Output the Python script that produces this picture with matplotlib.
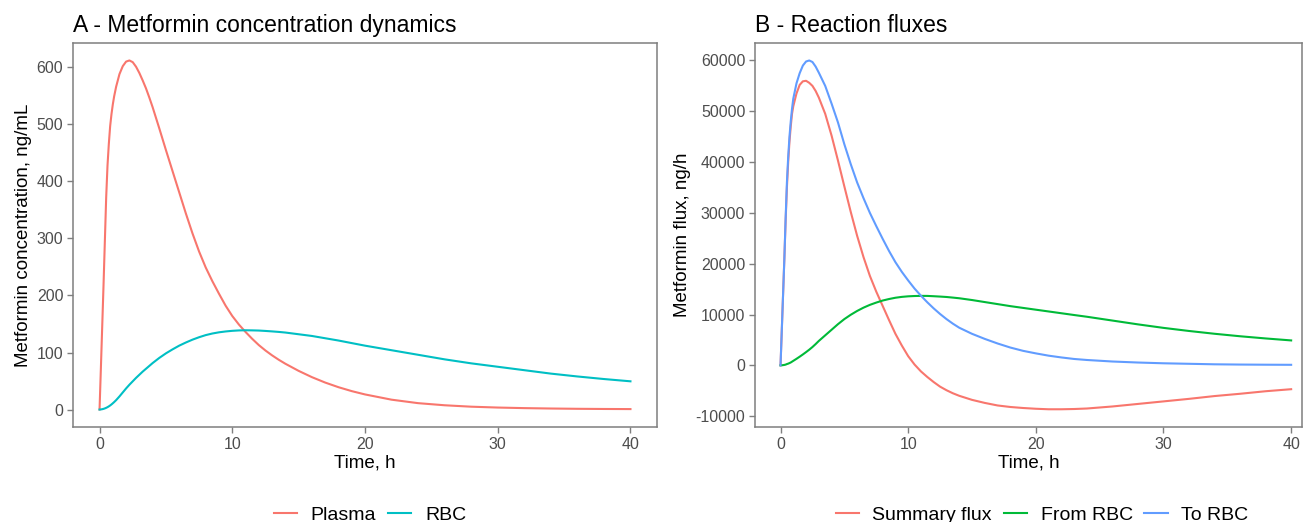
import matplotlib
matplotlib.use("Agg")
import matplotlib.pyplot as plt
from matplotlib.lines import Line2D

plt.rcParams['font.family'] = ['Liberation Sans', 'DejaVu Sans']

# ---------------- Panel A data (ng/mL) ----------------
time_a = [0, 0.1, 0.2, 0.3, 0.4, 0.5, 0.6, 0.7, 0.8, 0.9, 1.0, 1.1, 1.25, 1.5, 1.75, 2.0, 2.25,
          2.5, 2.75, 3.0, 3.25, 3.5, 3.75, 4.0, 4.5, 5.0, 5.5, 6.0, 6.5, 7.0, 7.5, 8.0, 8.5, 9.0, 9.5,
          10, 10.5, 11, 11.5, 12, 12.5, 13, 13.5, 14, 15, 16, 17, 18, 19, 20, 22, 24, 26, 28, 30, 32, 34, 36, 38, 40]
plasma = [0, 72, 145, 218, 295, 372, 428, 466, 497, 518, 535, 549, 566, 588, 602, 610, 612,
          609, 601, 590, 577, 563, 547, 530, 493, 455, 418, 381, 344, 309, 277, 249, 225, 203, 182,
          164, 149, 136, 124, 113, 103.5, 95, 87.3, 80.3, 67.8, 56.8, 47.3, 39.2, 32.3, 26.5, 17.3, 11.2, 7.5, 5, 3.5, 2.5, 1.8, 1.3, 1.0, 0.8]
rbc = [0, 0.2, 0.6, 1.2, 2.0, 3.0, 4.2, 5.6, 7.2, 9.0, 11.0, 13.1, 16.5, 23, 30, 37, 43.5,
       49.5, 55.5, 61, 66.5, 71.5, 76.5, 81.5, 90.5, 98.5, 105.5, 112, 117.5, 122.5, 126.8, 130.5, 133.3, 135.4, 136.9,
       138, 138.7, 139, 138.8, 138.5, 137.8, 137, 136.1, 135, 132, 129, 125, 121, 116.5, 112, 104, 96, 88, 81, 75, 69, 63, 58, 53.5, 49.5]

# ---------------- Panel B data (ng/h) ----------------
time_b = [0, 0.1, 0.2, 0.3, 0.4, 0.5, 0.6, 0.7, 0.8, 0.9, 1.0, 1.25, 1.5, 1.75, 2.0, 2.25,
          2.5, 2.75, 3.0, 3.5, 4.0, 4.5, 5.0, 5.5, 6.0, 6.5, 7.0, 7.5, 8.0, 8.5, 9.0, 9.5,
          10, 10.5, 11, 11.5, 12, 12.5, 13, 13.5, 14, 15, 16, 17, 18, 19, 20, 21, 22, 23, 24,
          26, 28, 30, 32, 34, 36, 38, 40]
summary_flux = [0, 7000, 14000, 21000, 28500, 35000, 40000, 44000, 47000, 49500, 51000, 53500, 55200, 55900, 56000, 55600,
                55000, 54000, 52700, 49500, 45200, 40300, 35200, 30200, 25500, 21300, 17600, 14500, 11700, 8900, 6200, 3900,
                1800, 150, -1200, -2300, -3300, -4200, -4900, -5500, -6000, -6800, -7400, -7900, -8200, -8400, -8550, -8650, -8650, -8600, -8500,
                -8100, -7600, -7100, -6600, -6050, -5600, -5100, -4700]
from_rbc = [0, 10, 40, 80, 140, 250, 330, 440, 560, 720, 880, 1280, 1700, 2140, 2600, 3080,
            3600, 4180, 4800, 5900, 7000, 8100, 9100, 9950, 10700, 11350, 11900, 12350, 12750, 13050, 13300, 13470,
            13580, 13640, 13670, 13660, 13600, 13530, 13450, 13330, 13200, 12850, 12450, 12050, 11650, 11300, 10950, 10600, 10250, 9900, 9560,
            8810, 8060, 7370, 6760, 6210, 5720, 5290, 4900]
to_rbc = [0, 7000, 14000, 21000, 29000, 36000, 41000, 45000, 48000, 50500, 52500, 55500, 57500, 59000, 59800, 60000,
          59700, 58800, 57600, 55000, 51500, 47800, 43500, 39600, 36000, 32900, 30000, 27400, 24900, 22500, 20300, 18400,
          16700, 15100, 13700, 12400, 11200, 10100, 9100, 8200, 7400, 6200, 5200, 4300, 3500, 2850, 2350, 1900, 1550, 1250, 1050,
          750, 550, 400, 300, 200, 150, 120, 100]

labels_a = ["Plasma", "RBC"]
labels_b = ["Summary flux", "From RBC", "To RBC"]
colors_a = ["#F8766D", "#00BFC4"]
colors_b = ["#F8766D", "#00BA38", "#619CFF"]

W, H = 1304, 522
fig = plt.figure(figsize=(W / 100, H / 100), dpi=100)

def px_axes(l, t, r, b):
    return fig.add_axes([l / W, 1 - b / H, (r - l) / W, (b - t) / H])

axA = px_axes(73, 43, 657, 427)
axB = px_axes(755, 43, 1302, 427)

spine_col = "#7F7F7F"
tick_col = "#4D4D4D"

def style(ax):
    for s in ax.spines.values():
        s.set_color(spine_col)
        s.set_linewidth(1.1)
    ax.tick_params(axis='both', colors=spine_col, length=4, width=1.0,
                   labelsize=11.5, labelcolor=tick_col, pad=3)

lw = 1.5
axA.plot(time_a, plasma, color=colors_a[0], lw=lw, label=labels_a[0])
axA.plot(time_a, rbc, color=colors_a[1], lw=lw, label=labels_a[1])
axA.set_xlim(-2, 42)
axA.set_ylim(-30.6, 642.6)
axA.set_xticks([0, 10, 20, 30, 40])
axA.set_yticks([0, 100, 200, 300, 400, 500, 600])
style(axA)
axA.set_xlabel("Time, h", fontsize=13.5, labelpad=2)
axA.set_ylabel("Metformin concentration, ng/mL", fontsize=13.5, labelpad=3)
axA.set_title("A - Metformin concentration dynamics", fontsize=16.5, loc='left', pad=8)

axB.plot(time_b, summary_flux, color=colors_b[0], lw=lw, label=labels_b[0])
axB.plot(time_b, from_rbc, color=colors_b[1], lw=lw, label=labels_b[1])
axB.plot(time_b, to_rbc, color=colors_b[2], lw=lw, label=labels_b[2])
axB.set_xlim(-2, 40.85)
axB.set_ylim(-12140, 63440)
axB.set_xticks([0, 10, 20, 30, 40])
axB.set_yticks([-10000, 0, 10000, 20000, 30000, 40000, 50000, 60000])
axB.set_yticklabels(["-10000", "0", "10000", "20000", "30000", "40000", "50000", "60000"])
style(axB)
axB.set_xlabel("Time, h", fontsize=13.5, labelpad=2)
axB.set_ylabel("Metformin flux, ng/h", fontsize=13.5, labelpad=3)
axB.set_title("B - Reaction fluxes", fontsize=16.5, loc='left', pad=8)

def add_legend(labels, colors, cx):
    handles = [Line2D([0], [0], color=c, lw=lw) for c in colors]
    fig.legend(handles, labels, loc='center', bbox_to_anchor=(cx / W, 1 - 515 / H),
               ncol=len(labels), frameon=False, fontsize=14, handlelength=1.2,
               handletextpad=0.7, columnspacing=0.6, borderpad=0, borderaxespad=0)

add_legend(labels_a, colors_a, 370)
add_legend(labels_b, colors_b, 1042)

fig.savefig("out.png", dpi=100)
